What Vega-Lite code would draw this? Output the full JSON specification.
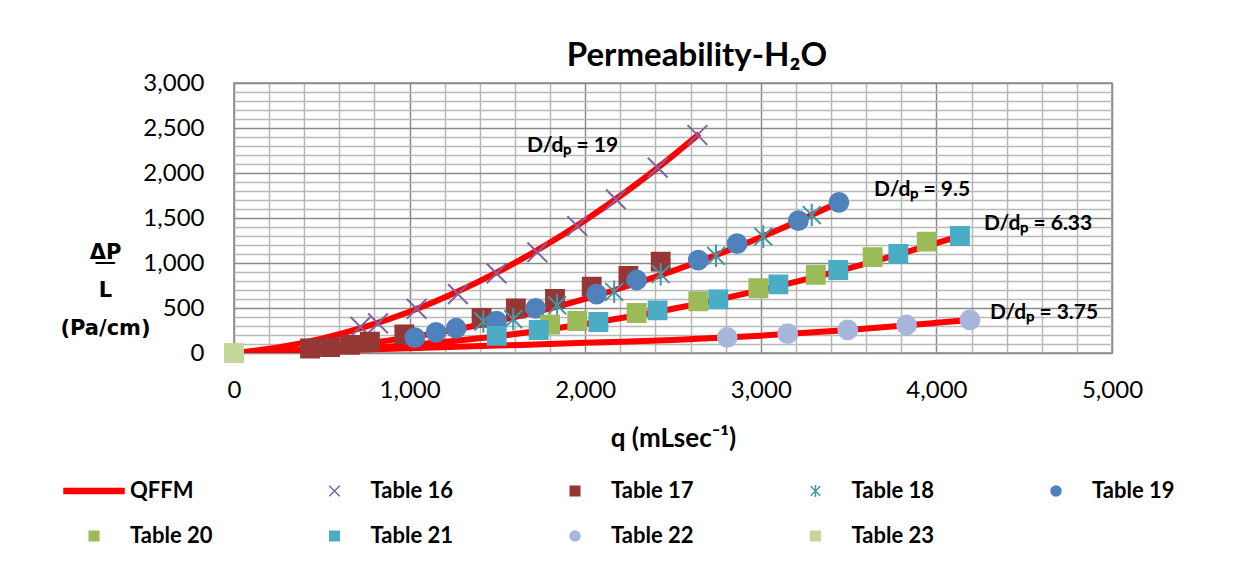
{
  "$schema": "https://vega.github.io/schema/vega-lite/v6.json",
  "autosize": "none",
  "width": 878,
  "height": 270,
  "padding": {"left": 234, "top": 83, "right": 122, "bottom": 215},
  "background": "white",
  "title": {"text": "Permeability-H₂O", "anchor": "middle", "dx": 24, "dy": 16, "offset": 14, "fontSize": 33, "font": "Lato", "fontWeight": "bold", "color": "#000000"},
  "config": {
    "font": "Lato",
    "view": {"stroke": "#8c8c8c", "strokeWidth": 1.5},
    "axis": {"labelColor": "#000000", "titleColor": "#000000"}
  },
  "datasets": {
    "points": [
      {"s": "Table 16", "q": 720, "p": 290}, {"s": "Table 16", "q": 820, "p": 330}, {"s": "Table 16", "q": 1040, "p": 490}, {"s": "Table 16", "q": 1275, "p": 655}, {"s": "Table 16", "q": 1495, "p": 885}, {"s": "Table 16", "q": 1727, "p": 1119}, {"s": "Table 16", "q": 1955, "p": 1411}, {"s": "Table 16", "q": 2175, "p": 1707}, {"s": "Table 16", "q": 2413, "p": 2059}, {"s": "Table 16", "q": 2639, "p": 2422},
      {"s": "Table 17", "q": 433, "p": 50}, {"s": "Table 17", "q": 547, "p": 65}, {"s": "Table 17", "q": 661, "p": 90}, {"s": "Table 17", "q": 774, "p": 125}, {"s": "Table 17", "q": 970, "p": 205}, {"s": "Table 17", "q": 1410, "p": 390}, {"s": "Table 17", "q": 1605, "p": 495}, {"s": "Table 17", "q": 1828, "p": 600}, {"s": "Table 17", "q": 2037, "p": 737}, {"s": "Table 17", "q": 2246, "p": 855}, {"s": "Table 17", "q": 2430, "p": 1015},
      {"s": "Table 18", "q": 1420, "p": 350}, {"s": "Table 18", "q": 1590, "p": 375}, {"s": "Table 18", "q": 1840, "p": 530}, {"s": "Table 18", "q": 2165, "p": 680}, {"s": "Table 18", "q": 2430, "p": 876}, {"s": "Table 18", "q": 2745, "p": 1080}, {"s": "Table 18", "q": 3014, "p": 1293}, {"s": "Table 18", "q": 3290, "p": 1533},
      {"s": "Table 19", "q": 1030, "p": 170}, {"s": "Table 19", "q": 1150, "p": 230}, {"s": "Table 19", "q": 1265, "p": 275}, {"s": "Table 19", "q": 1496, "p": 355}, {"s": "Table 19", "q": 1718, "p": 496}, {"s": "Table 19", "q": 2065, "p": 655}, {"s": "Table 19", "q": 2293, "p": 811}, {"s": "Table 19", "q": 2644, "p": 1033}, {"s": "Table 19", "q": 2865, "p": 1215}, {"s": "Table 19", "q": 3214, "p": 1470}, {"s": "Table 19", "q": 3445, "p": 1674},
      {"s": "Table 20", "q": 1800, "p": 315}, {"s": "Table 20", "q": 1955, "p": 355}, {"s": "Table 20", "q": 2293, "p": 445}, {"s": "Table 20", "q": 2644, "p": 575}, {"s": "Table 20", "q": 2986, "p": 719}, {"s": "Table 20", "q": 3313, "p": 870}, {"s": "Table 20", "q": 3637, "p": 1065}, {"s": "Table 20", "q": 3945, "p": 1237},
      {"s": "Table 21", "q": 1496, "p": 190}, {"s": "Table 21", "q": 1735, "p": 255}, {"s": "Table 21", "q": 2075, "p": 345}, {"s": "Table 21", "q": 2412, "p": 474}, {"s": "Table 21", "q": 2758, "p": 596}, {"s": "Table 21", "q": 3100, "p": 763}, {"s": "Table 21", "q": 3441, "p": 922}, {"s": "Table 21", "q": 3783, "p": 1100}, {"s": "Table 21", "q": 4134, "p": 1300},
      {"s": "Table 22", "q": 2809, "p": 174}, {"s": "Table 22", "q": 3153, "p": 215}, {"s": "Table 22", "q": 3495, "p": 256}, {"s": "Table 22", "q": 3830, "p": 311}, {"s": "Table 22", "q": 4191, "p": 367},
      {"s": "Table 23", "q": 0, "p": 0}
    ],
    "curves": [
      {"c": "19", "q": 0, "p": 0}, {"c": "19", "q": 250, "p": 62}, {"c": "19", "q": 500, "p": 160}, {"c": "19", "q": 750, "p": 292}, {"c": "19", "q": 1000, "p": 459}, {"c": "19", "q": 1250, "p": 661}, {"c": "19", "q": 1500, "p": 898}, {"c": "19", "q": 1750, "p": 1169}, {"c": "19", "q": 2000, "p": 1476}, {"c": "19", "q": 2250, "p": 1817}, {"c": "19", "q": 2500, "p": 2194}, {"c": "19", "q": 2650, "p": 2436},
      {"c": "9.5", "q": 0, "p": 0}, {"c": "9.5", "q": 250, "p": 20}, {"c": "9.5", "q": 500, "p": 55}, {"c": "9.5", "q": 750, "p": 106}, {"c": "9.5", "q": 1000, "p": 174}, {"c": "9.5", "q": 1250, "p": 257}, {"c": "9.5", "q": 1500, "p": 356}, {"c": "9.5", "q": 1750, "p": 471}, {"c": "9.5", "q": 2000, "p": 602}, {"c": "9.5", "q": 2250, "p": 750}, {"c": "9.5", "q": 2500, "p": 913}, {"c": "9.5", "q": 2750, "p": 1091}, {"c": "9.5", "q": 3000, "p": 1286}, {"c": "9.5", "q": 3250, "p": 1497}, {"c": "9.5", "q": 3450, "p": 1677},
      {"c": "6.33", "q": 0, "p": 0}, {"c": "6.33", "q": 250, "p": 9}, {"c": "6.33", "q": 500, "p": 27}, {"c": "6.33", "q": 750, "p": 53}, {"c": "6.33", "q": 1000, "p": 89}, {"c": "6.33", "q": 1250, "p": 134}, {"c": "6.33", "q": 1500, "p": 187}, {"c": "6.33", "q": 1750, "p": 250}, {"c": "6.33", "q": 2000, "p": 322}, {"c": "6.33", "q": 2250, "p": 403}, {"c": "6.33", "q": 2500, "p": 492}, {"c": "6.33", "q": 2750, "p": 591}, {"c": "6.33", "q": 3000, "p": 699}, {"c": "6.33", "q": 3250, "p": 815}, {"c": "6.33", "q": 3500, "p": 941}, {"c": "6.33", "q": 3750, "p": 1076}, {"c": "6.33", "q": 4000, "p": 1220}, {"c": "6.33", "q": 4134, "p": 1300},
      {"c": "3.75", "q": 0, "p": 0}, {"c": "3.75", "q": 500, "p": 25}, {"c": "3.75", "q": 1000, "p": 52}, {"c": "3.75", "q": 1500, "p": 82}, {"c": "3.75", "q": 2000, "p": 113}, {"c": "3.75", "q": 2500, "p": 145}, {"c": "3.75", "q": 3000, "p": 193}, {"c": "3.75", "q": 3500, "p": 256}, {"c": "3.75", "q": 4000, "p": 335}, {"c": "3.75", "q": 4191, "p": 367}
    ],
    "notes": [
      {"t": "D/dₚ = 19", "q": 1669, "p": 2298},
      {"t": "D/dₚ =  9.5", "q": 3645, "p": 1810},
      {"t": "D/dₚ = 6.33", "q": 4271, "p": 1433},
      {"t": "D/dₚ = 3.75", "q": 4305, "p": 447}
    ]
  },
  "encoding": {
    "x": {
      "field": "q", "type": "quantitative",
      "scale": {"domain": [0, 5000], "nice": false, "zero": false},
      "axis": {
        "title": "q (mLsec⁻¹)",
        "titleFont": "Lato", "titleFontSize": 26, "titleFontWeight": "bold",
        "titleBaseline": "top", "titleY": 72,
        "values": [0,200,400,600,800,1000,1200,1400,1600,1800,2000,2200,2400,2600,2800,3000,3200,3400,3600,3800,4000,4200,4400,4600,4800,5000],
        "labelExpr": "datum.value % 1000 === 0 ? format(datum.value, ',') : ''",
        "labelFontSize": 24, "labelFont": "Lato", "labelPadding": 25,
        "labelOverlap": false, "labelFlush": false,
        "ticks": false, "domain": false,
        "grid": true,
        "gridColor": {"condition": {"test": "datum.value % 1000 === 0", "value": "#8a8a8a"}, "value": "#b8b8b8"},
        "gridWidth": 1.5
      }
    },
    "y": {
      "field": "p", "type": "quantitative",
      "scale": {"domain": [0, 3000], "nice": false, "zero": false},
      "axis": {
        "title": ["Δ̲P̲", "L", "(Pa/cm)"],
        "titleFont": "DejaVu Sans", "titleFontSize": 21, "titleFontWeight": "bold",
        "titleAngle": 0, "titleAlign": "center", "titleBaseline": "middle",
        "titleX": -129, "titleY": 169, "titleLineHeight": 38,
        "values": [0,100,200,300,400,500,600,700,800,900,1000,1100,1200,1300,1400,1500,1600,1700,1800,1900,2000,2100,2200,2300,2400,2500,2600,2700,2800,2900,3000],
        "labelExpr": "datum.value % 500 === 0 ? format(datum.value, ',') : ''",
        "labelFontSize": 24, "labelFont": "Lato", "labelPadding": 30,
        "labelOverlap": false, "labelFlush": false,
        "ticks": false, "domain": false,
        "grid": true,
        "gridColor": {"condition": {"test": "datum.value % 500 === 0", "value": "#8a8a8a"}, "value": "#b8b8b8"},
        "gridWidth": 1.5
      }
    }
  },
  "layer": [
    {
      "data": {"name": "curves"},
      "mark": {"type": "line", "color": "#ff0000", "strokeWidth": 6, "interpolate": "monotone", "clip": true},
      "encoding": {"detail": {"field": "c", "type": "nominal"}}
    },
    {
      "data": {"name": "points"},
      "mark": {"type": "point", "size": 8836, "strokeWidth": 2, "opacity": 1},
      "encoding": {
        "shape": {
          "field": "s", "type": "nominal",
          "scale": {
            "domain": ["QFFM","Table 16","Table 17","Table 18","Table 19","Table 20","Table 21","Table 22","Table 23"],
            "range": [
              "M-1.2,-0.1H1.2V0.1H-1.2Z",
              "M-0.21,-0.21L0.21,0.21M-0.21,0.21L0.21,-0.21",
              "M-0.19,-0.19H0.19V0.19H-0.19Z",
              "M-0.19,-0.19L0.19,0.19M-0.19,0.19L0.19,-0.19M0,-0.24V0.24",
              "M0.2,0A0.2,0.2,0,1,1,-0.2,0A0.2,0.2,0,1,1,0.2,0Z",
              "M-0.19,-0.19H0.19V0.19H-0.19Z",
              "M-0.19,-0.19H0.19V0.19H-0.19Z",
              "M0.2,0A0.2,0.2,0,1,1,-0.2,0A0.2,0.2,0,1,1,0.2,0Z",
              "M-0.19,-0.19H0.19V0.19H-0.19Z"
            ]
          },
          "legend": {
            "title": null, "orient": "none", "legendX": -166, "legendY": 382,
            "direction": "horizontal", "columns": 5, "gridAlign": "all",
            "columnPadding": 95.5, "rowPadding": 8, "padding": 0,
            "symbolSize": 2500, "symbolStrokeWidth": 1.5, "labelOffset": 10,
            "labelFont": "Lato", "labelFontSize": 22, "labelFontWeight": "bold", "labelColor": "#000000", "labelLimit": 200
          }
        },
        "fill": {
          "field": "s", "type": "nominal",
          "scale": {
            "domain": ["QFFM","Table 16","Table 17","Table 18","Table 19","Table 20","Table 21","Table 22","Table 23"],
            "range": ["#ff0000","transparent","#953735","transparent","#4f81bd","#9bbb59","#4bacc6","#a7b7db","#c4d79b"]
          }
        },
        "stroke": {
          "field": "s", "type": "nominal",
          "scale": {
            "domain": ["QFFM","Table 16","Table 17","Table 18","Table 19","Table 20","Table 21","Table 22","Table 23"],
            "range": ["#ff0000","#8064a2","#953735","#4198a6","#4f81bd","#9bbb59","#4bacc6","#a7b7db","#c4d79b"]
          }
        }
      }
    },
    {
      "data": {"name": "notes"},
      "mark": {"type": "text", "align": "left", "baseline": "middle", "font": "Lato", "fontSize": 21, "fontWeight": "bold", "color": "#000000"},
      "encoding": {"text": {"field": "t", "type": "nominal"}}
    }
  ]
}
